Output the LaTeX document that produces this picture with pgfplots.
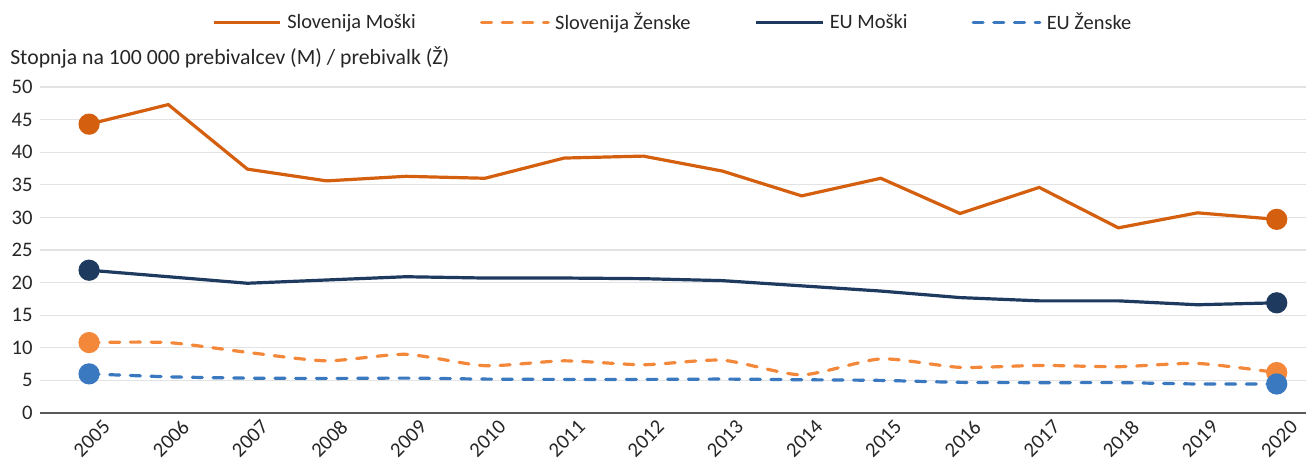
\documentclass[border=0pt]{standalone}
\usepackage{pgfplots}
\pgfplotsset{compat=1.18}
\usepackage{fontspec}
\setmainfont{Carlito}
\definecolor{sloM}{HTML}{D4600F}
\definecolor{sloZ}{HTML}{F4883A}
\definecolor{euM}{HTML}{1E3A5F}
\definecolor{euZ}{HTML}{3A78C0}
\definecolor{gridc}{HTML}{E3E3E3}
\definecolor{axc}{HTML}{595959}
\definecolor{txt}{HTML}{262626}
\begin{document}
\begin{tikzpicture}
\path[use as bounding box] (-30pt,-42.75pt) rectangle (949.5pt,309.75pt);
\begin{axis}[
  scale only axis,
  width=949.5pt, height=244.5pt,
  xmin=2004.38, xmax=2020.37,
  ymin=0, ymax=50,
  ytick={0,5,...,50},
  xtick={2005,...,2020},
  xticklabel style={rotate=45, anchor=east, xshift=7pt, yshift=-15pt},
  yticklabel style={xshift=-2pt},
  /pgf/number format/assume math mode=true,
  /pgf/number format/1000 sep={},
  tick label style={font=\fontsize{15.5}{17}\selectfont, text=txt},
  major tick length=0pt,
  axis x line*=bottom,
  axis y line*=left,
  y axis line style={draw=none},
  x axis line style={draw=axc, line width=1.6pt, -},
  ymajorgrids,
  grid style={draw=gridc, line width=0.9pt},
  clip=false,
  legend style={at={(0.5,1.199)}, anchor=center, draw=none, fill=none,
    legend columns=4, font=\fontsize{15.3}{17}\selectfont, text=txt,
    /tikz/every even column/.append style={column sep=46pt},
    /tikz/every odd column/.append style={column sep=2pt}},
  legend image code/.code={\draw[#1, mark=none] (0pt,0pt) -- (50pt,0pt);},
  every axis plot/.append style={line width=2.4pt},
]
\addplot[sloM, mark=*, mark size=6.75pt, mark indices={1,16}, mark options={solid}] coordinates {
(2005,44.3)(2006,47.3)(2007,37.4)(2008,35.6)(2009,36.3)(2010,36.0)(2011,39.1)(2012,39.4)
(2013,37.1)(2014,33.3)(2015,36.0)(2016,30.6)(2017,34.6)(2018,28.4)(2019,30.7)(2020,29.7)};
\addlegendentry{Slovenija Moški}
\addplot[sloZ, smooth, tension=0.4, dash pattern=on 7.5pt off 8pt, line cap=round, mark=*, mark size=6.75pt, mark indices={1,16}, mark options={solid}] coordinates {
(2005,10.8)(2006,10.8)(2007,9.3)(2008,8.0)(2009,9.0)(2010,7.25)(2011,8.0)(2012,7.4)
(2013,8.1)(2014,5.85)(2015,8.3)(2016,7.0)(2017,7.3)(2018,7.1)(2019,7.6)(2020,6.2)};
\addlegendentry{Slovenija Ženske}
\addplot[euM, mark=*, mark size=6.75pt, mark indices={1,16}, mark options={solid}] coordinates {
(2005,21.9)(2006,20.9)(2007,19.9)(2008,20.4)(2009,20.9)(2010,20.7)(2011,20.7)(2012,20.6)
(2013,20.3)(2014,19.5)(2015,18.7)(2016,17.7)(2017,17.2)(2018,17.2)(2019,16.6)(2020,16.9)};
\addlegendentry{EU Moški}
\addplot[euZ, smooth, tension=0.4, dash pattern=on 7.5pt off 8pt, line cap=round, mark=*, mark size=6.75pt, mark indices={1,16}, mark options={solid}] coordinates {
(2005,6.0)(2006,5.55)(2007,5.35)(2008,5.3)(2009,5.35)(2010,5.2)(2011,5.15)(2012,5.15)
(2013,5.2)(2014,5.1)(2015,5.0)(2016,4.7)(2017,4.65)(2018,4.65)(2019,4.45)(2020,4.45)};
\addlegendentry{EU Ženske}
\node[anchor=west, font=\fontsize{16.3}{18}\selectfont, text=txt, inner sep=0pt] at (rel axis cs:0,1) [yshift=22.5pt, xshift=-22.5pt] {Stopnja na 100 000 prebivalcev (M) / prebivalk (Ž)};
\end{axis}
\end{tikzpicture}
\end{document}
